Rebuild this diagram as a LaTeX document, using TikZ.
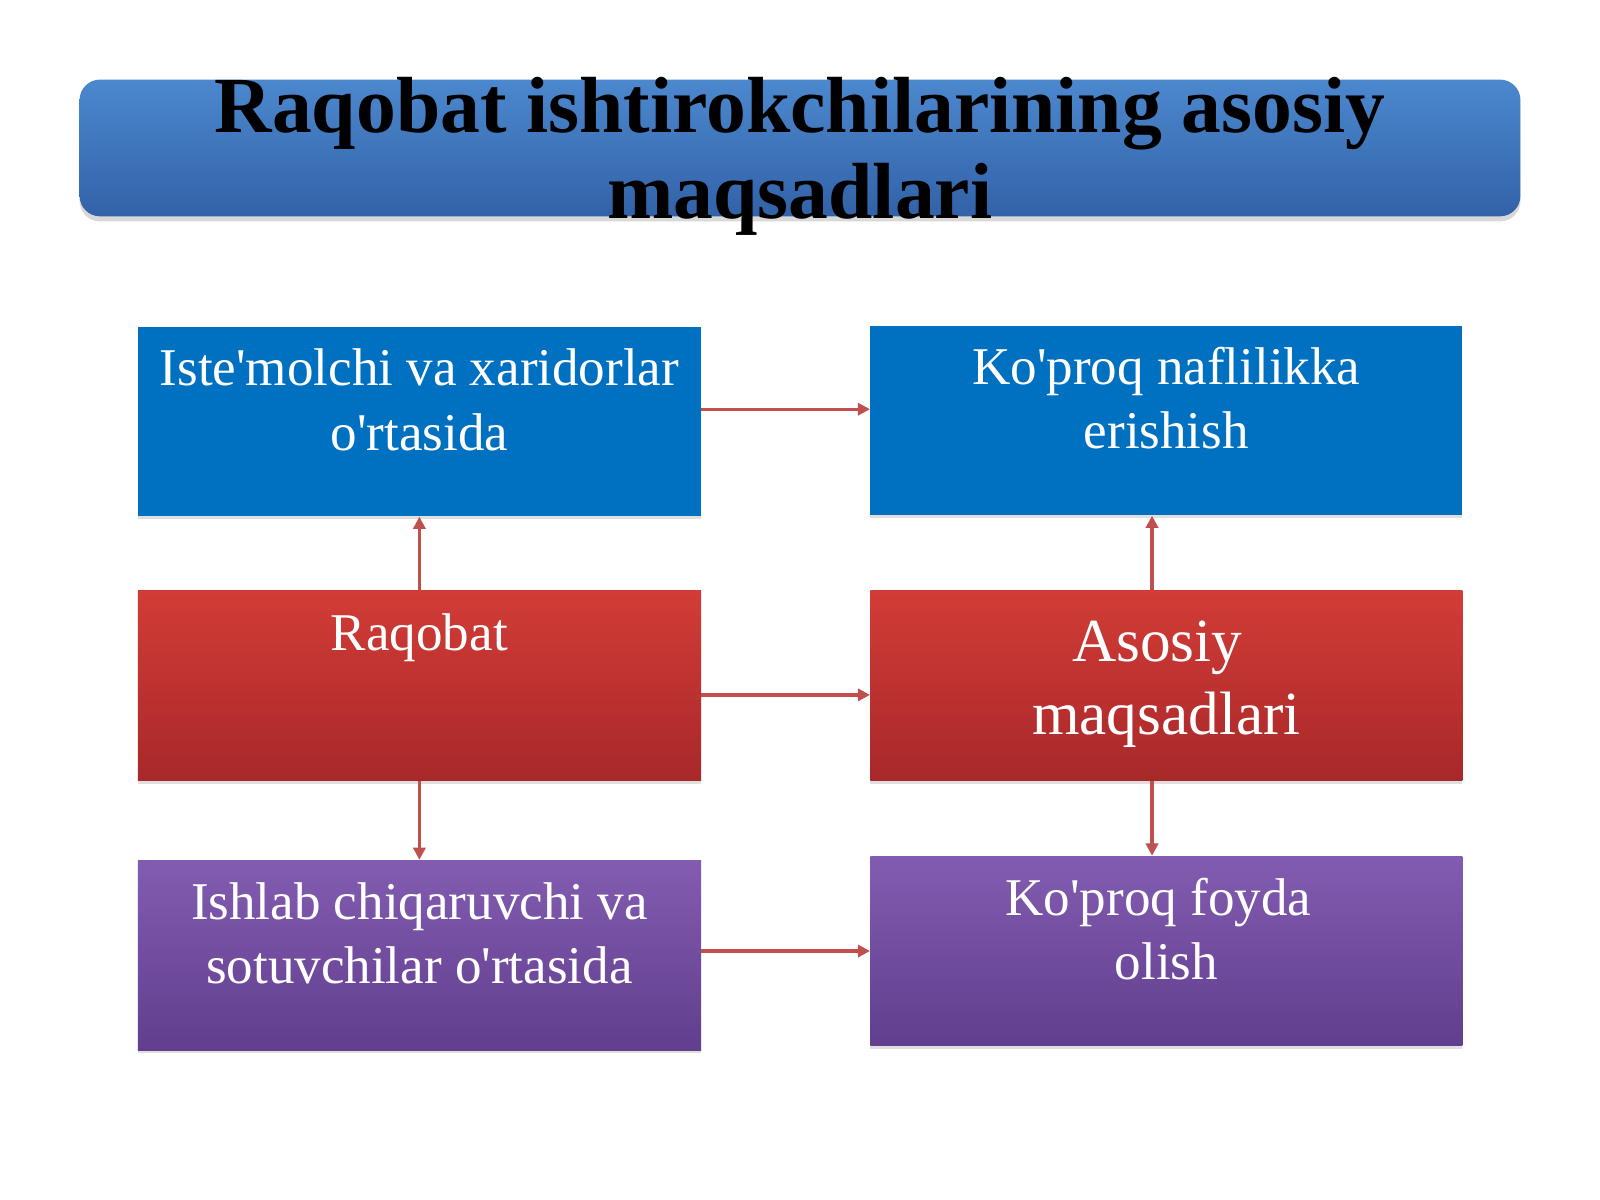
\documentclass[tikz,border=0pt]{standalone}
\usepackage{fontspec}
\setmainfont{Liberation Serif}
\usetikzlibrary{arrows.meta,shadows}
\definecolor{barblue}{RGB}{0,112,192}
\definecolor{flowred}{RGB}{192,80,77}
\tikzset{
  goal/.style={inner sep=0pt, text=white, drop shadow={opacity=0.25, shadow xshift=0pt, shadow yshift=-1.5pt}},
  bluebox/.style={goal, fill=barblue},
  redbox/.style={goal, top color={rgb,255:red,210;green,60;blue,54}, bottom color={rgb,255:red,168;green,40;blue,42}},
  violetbox/.style={goal, top color={rgb,255:red,130;green,92;blue,176}, bottom color={rgb,255:red,98;green,62;blue,142}},
  flow/.style={draw=flowred, line width=1.6pt, -{Triangle[length=6pt,width=6pt]}}
}
% text of a box, hung from its top
\newcommand{\boxtext}[3]{\parbox[c][93pt][t]{#1}{\centering\rule{0pt}{#2}#3}}
\newcommand{\ap}{\textquotesingle}
\newcommand{\trail}{\rule{0.3em}{0pt}}
\begin{document}
\begin{tikzpicture}[x=0.5pt,y=-0.5pt]
        \useasboundingbox[fill=white] (0,0) rectangle (1568,1176);

        % Title bar
        \node[inner sep=0pt, rounded corners=10pt, top color={rgb,255:red,76;green,136;blue,206}, bottom color={rgb,255:red,50;green,98;blue,168}, drop shadow={opacity=0.3, shadow xshift=0pt, shadow yshift=-2.5pt}] (title) at (784,145)
          {\parbox[c][67pt][c]{706pt}{\vspace*{8pt}\centering\fontsize{39}{42}\selectfont\bfseries Raqobat ishtirokchilarining asosiy\\maqsadlari}};

        % Define boxes
        \node[bluebox] (iste) at (411,413) {\boxtext{276pt}{29pt}{\fontsize{26}{31.5}\selectfont Iste\ap molchi va xaridorlar\\o\ap rtasida}};
        \node[redbox] (raqobat) at (411,672) {\boxtext{276pt}{29pt}{\fontsize{26}{31.5}\selectfont Raqobat}};
        \node[violetbox] (ishlab) at (411,936) {\boxtext{276pt}{29pt}{\fontsize{26}{31.5}\selectfont Ishlab chiqaruvchi va\\sotuvchilar o\ap rtasida}};
        \node[bluebox] (naflilik) at (1143,412) {\boxtext{290pt}{29pt}{\fontsize{26}{31.5}\selectfont Ko\ap proq naflilikka\\erishish}};
        \node[redbox] (asosiy) at (1143,672) {\boxtext{290pt}{34.5pt}{\fontsize{30}{36}\selectfont Asosiy\trail\\maqsadlari}};
        \node[violetbox] (foyda) at (1143,932) {\boxtext{290pt}{29pt}{\fontsize{26}{31.5}\selectfont Ko\ap proq foyda\trail\\olish}};

        % Draw arrows
        \draw[flow] ([yshift=6pt]iste.east) -- ([yshift=6pt]iste.east -| naflilik.west);
        \draw[flow] ([yshift=-4.5pt]raqobat.east) -- ([yshift=-4.5pt]raqobat.east -| asosiy.west);
        \draw[flow] ([yshift=2pt]ishlab.east) -- ([yshift=2pt]ishlab.east -| foyda.west);
        \draw[flow] (raqobat.north) -- (iste.south);
        \draw[flow] (raqobat.south) -- (ishlab.north);
        \draw[flow] ([xshift=-7pt]asosiy.north) -- ([xshift=-7pt]naflilik.south);
        \draw[flow] ([xshift=-7pt]asosiy.south) -- ([xshift=-7pt]foyda.north);
\end{tikzpicture}
\end{document}
